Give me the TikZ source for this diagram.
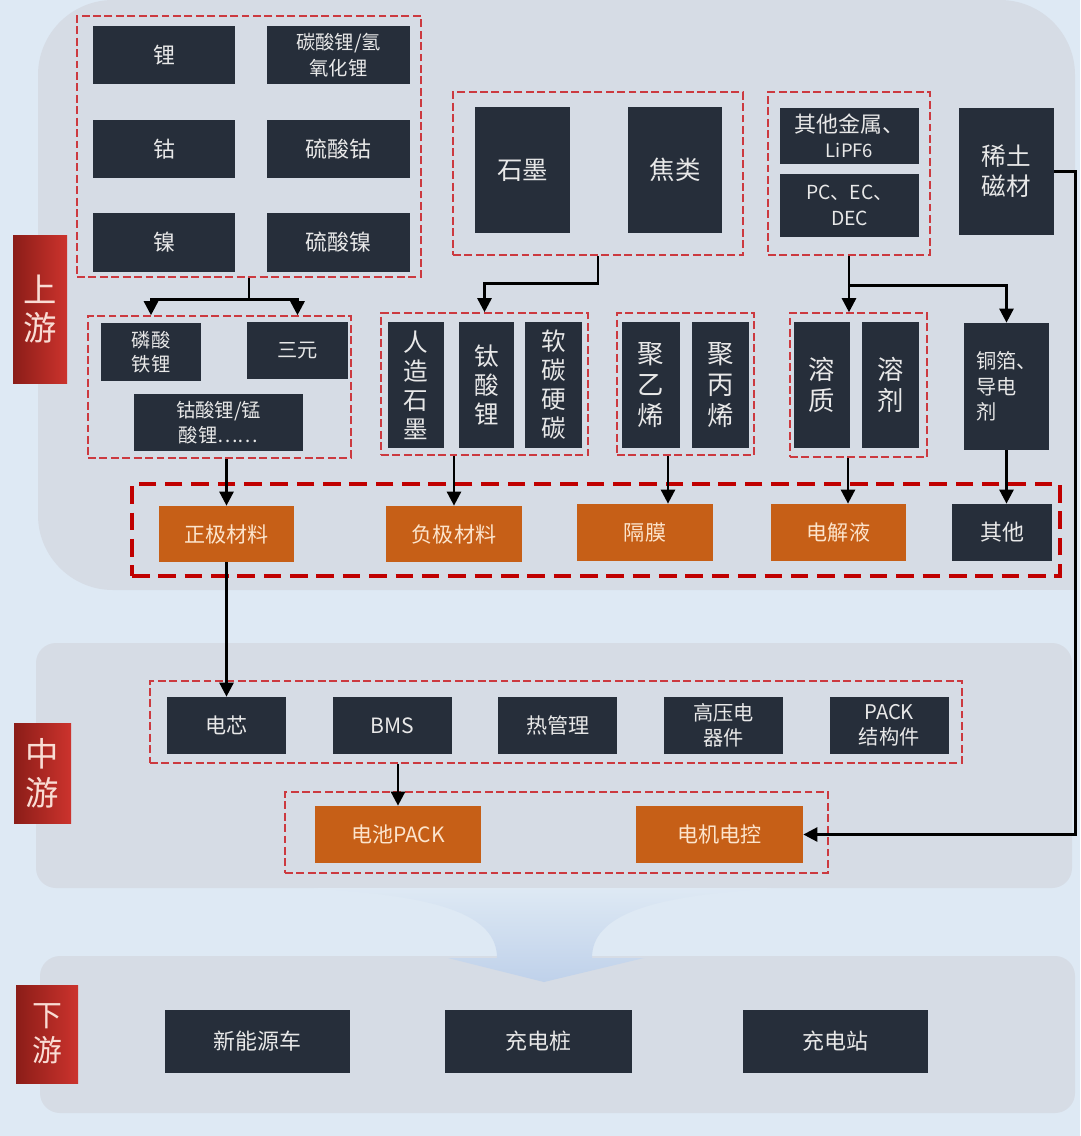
\documentclass[tikz,border=0pt]{standalone}
\usepackage{fontspec}
\setmainfont{Noto Sans CJK SC}
\usetikzlibrary{positioning}
\usetikzlibrary{fit}
\usetikzlibrary{calc}
\usetikzlibrary{arrows.meta}

\definecolor{bgblue}{HTML}{DEE9F4}
\definecolor{panelgrey}{HTML}{D6DCE5}
\definecolor{funnelblue}{HTML}{BFD1EA}
\definecolor{boxdark}{HTML}{262E3A}
\definecolor{boxtext}{HTML}{E8E8E8}
\definecolor{boxorange}{HTML}{C65F17}
\definecolor{orangetext}{HTML}{FCE4CC}
\definecolor{grpred}{HTML}{CC3A40}
\definecolor{bigred}{HTML}{C00000}
\definecolor{stagedark}{HTML}{8B1D18}
\definecolor{stagelight}{HTML}{CC332D}
\definecolor{stagetext}{HTML}{F9DCD4}

\tikzset{
  fs/.style 2 args={font=\fontsize{#1}{#2}\selectfont},
  rect/.style n args={4}{at={({(#1+#3)/2},{(#2+#4)/2})}, minimum width={(#3-#1)*0.02cm}, minimum height={(#4-#2)*0.02cm}},
  dbox/.style={fill=boxdark, text=boxtext, inner sep=0pt, align=center, fs={12}{14.5}},
  obox/.style={dbox, fill=boxorange, text=orangetext},
  grp/.style={draw=grpred, dash pattern=on 4.5pt off 2pt, line width=0.9pt, inner sep=0pt},
  biggrp/.style={draw=bigred, dash pattern=on 10pt off 5pt, line width=2.6pt, inner sep=0pt},
  stage/.style={left color=stagedark, right color=stagelight, text=stagetext, inner sep=0pt, align=center},
  flow/.style={-{Triangle[length=0.28cm, width=0.28cm]}, line width=1.5pt, black},
}

\begin{document}
\begin{tikzpicture}[x=0.02cm, y=-0.02cm]
    \useasboundingbox (0,0) rectangle (1080,1136);
    \fill[bgblue] (0,0) rectangle (1080,1136);

    % panels
    \fill[panelgrey, rounded corners=1.5cm] (38,0) rectangle (1075,590);
    \fill[panelgrey] (1000,520) rectangle (1075,590);
    \fill[panelgrey, rounded corners=0.4cm] (36,643) rectangle (1072,888);
    \fill[panelgrey, rounded corners=0.4cm] (40,956) rectangle (1075,1113);
    \shade[top color=bgblue, bottom color=funnelblue] (305,888) .. controls (440,895) and (497,915) .. (497,958) -- (448,958) -- (544,982) -- (644,958) -- (592,958) .. controls (592,915) and (650,895) .. (780,888) -- cycle;

    % stage labels
    \node[stage, rect={13}{235}{67}{383}, fs={19}{22}] (up) {上\\游};
    \node[stage, rect={14}{723}{71}{823}, fs={19}{22}] (mid) {中\\游};
    \node[stage, rect={16}{985}{78}{1083}, fs={17}{20}] (down) {下\\游};

    % upstream raw materials
    \node[grp, fit={(77,16) (421,277)}] (grpA) {};
    \node[dbox, rect={93}{26}{235}{84}, fs={12.5}{15}] (li) {锂};
    \node[dbox, rect={267}{26}{410}{84}, fs={11}{14.5}] (licarb) {碳酸锂/氢\\氧化锂};
    \node[dbox, rect={93}{120}{235}{178}, fs={12.5}{15}] (co) {钴};
    \node[dbox, rect={267}{120}{410}{178}, fs={12.5}{15}] (cosulf) {硫酸钴};
    \node[dbox, rect={93}{213}{235}{272}, fs={12.5}{15}] (ni) {镍};
    \node[dbox, rect={267}{213}{410}{272}, fs={12.5}{15}] (nisulf) {硫酸镍};

    \node[grp, fit={(453,92) (743,255)}] (grpB) {};
    \node[dbox, rect={475}{107}{570}{233}, fs={14.5}{17}] (graphite) {石墨};
    \node[dbox, rect={628}{107}{722}{233}, fs={14.5}{17}] (coke) {焦类};

    \node[grp, fit={(768,92) (930,255)}] (grpC) {};
    \node[dbox, rect={780}{108}{919}{164}, fs={12.5}{14}] (metal) {其他金属、\\{\fontsize{10.5}{12}\selectfont LiPF6}};
    \node[dbox, rect={780}{174}{919}{237}, fs={11}{14.5}] (solv) {PC、EC、\\DEC};
    \node[dbox, rect={959}{108}{1054}{235}, fs={14}{17}] (rareearth) {稀土\\磁材};

    % upstream intermediates
    \node[grp, fit={(88,316) (351,458)}] (grpD) {};
    \node[dbox, rect={101}{323}{201}{381}, fs={11}{14}] (lfp) {磷酸\\铁锂};
    \node[dbox, rect={247}{322}{348}{379}, fs={11.5}{14}] (ncm) {三元};
    \node[dbox, rect={134}{394}{303}{451}, fs={11}{14.5}] (lco) {钴酸锂/锰\\酸锂……};

    \node[grp, fit={(381,313) (588,455)}] (grpE) {};
    \node[dbox, rect={388}{322}{444}{448}, fs={14}{16.5}] (artgraph) {人\\造\\石\\墨};
    \node[dbox, rect={459}{322}{514}{448}, fs={14}{16.5}] (lto) {钛\\酸\\锂};
    \node[dbox, rect={525}{322}{582}{448}, fs={14}{16.5}] (carbon) {软\\碳\\硬\\碳};

    \node[grp, fit={(617,313) (754,455)}] (grpF) {};
    \node[dbox, rect={622}{322}{680}{448}, fs={15}{17.5}] (pe) {聚\\乙\\烯};
    \node[dbox, rect={692}{322}{749}{448}, fs={15}{17.5}] (pp) {聚\\丙\\烯};

    \node[grp, fit={(790,313) (927,457)}] (grpG) {};
    \node[dbox, rect={794}{322}{850}{448}, fs={15}{17.5}] (solute) {溶\\质};
    \node[dbox, rect={862}{322}{919}{448}, fs={15}{17.5}] (solvent) {溶\\剂};

    \node[dbox, rect={964}{323}{1049}{450}, fs={11.5}{14.5}, align=left] (foil) {铜箔、\\导电\\剂};

    % battery materials
    \node[biggrp, fit={(132,484) (1060,576)}] (materials) {};
    \node[obox, rect={159}{506}{294}{562}] (cathode) {正极材料};
    \node[obox, rect={386}{506}{522}{562}] (anode) {负极材料};
    \node[obox, rect={577}{504}{713}{561}] (separator) {隔膜};
    \node[obox, rect={771}{504}{906}{561}] (electrolyte) {电解液};
    \node[dbox, rect={952}{504}{1052}{561}, fs={12.5}{15}] (other) {其他};

    % midstream
    \node[grp, fit={(150,681) (962,763)}] (grpH) {};
    \node[dbox, rect={167}{697}{286}{754}] (cell) {电芯};
    \node[dbox, minimum width=2.38cm, minimum height=1.14cm, right=0.92cm of cell] (bms) {BMS};
    \node[dbox, minimum width=2.38cm, minimum height=1.14cm, right=0.92cm of bms] (thermal) {热管理};
    \node[dbox, minimum width=2.38cm, minimum height=1.14cm, right=0.92cm of thermal, fs={11.5}{14}] (hv) {高压电\\器件};
    \node[dbox, minimum width=2.38cm, minimum height=1.14cm, right=0.92cm of hv, fs={11.5}{14}] (packpart) {PACK\\结构件};

    \node[grp, fit={(285,792) (828,873)}] (grpI) {};
    \node[obox, rect={315}{806}{481}{863}] (pack) {电池PACK};
    \node[obox, rect={636}{806}{803}{863}] (motor) {电机电控};

    % downstream
    \node[dbox, rect={165}{1010}{350}{1073}, fs={12.5}{15}] (nev) {新能源车};
    \node[dbox, rect={445}{1010}{632}{1073}, fs={12.5}{15}] (pile) {充电桩};
    \node[dbox, rect={743}{1010}{928}{1073}, fs={12.5}{15}] (station) {充电站};

    % connectors
    \draw[flow] (grpA.south) -- ++(0,22) -| (lfp.north |- grpD.north);
    \draw[flow] (grpA.south) -- ++(0,22) -| (ncm.north |- grpD.north);
    \draw[flow] (grpB.south) -- ++(0,28) -| (grpE.north);
    \draw[flow] (grpC.south) -- (grpC.south |- grpG.north);
    \draw[flow] (grpC.south) -- ++(0,30) -| (foil.north);
    \draw[flow] (cathode.north |- grpD.south) -- (cathode.north);
    \draw[flow] (anode.north |- grpE.south) -- (anode.north);
    \draw[flow] ([xshift=0.46cm]separator.north |- grpF.south) -- ([xshift=0.46cm]separator.north);
    \draw[flow] ([xshift=0.19cm]electrolyte.north |- grpG.south) -- ([xshift=0.19cm]electrolyte.north);
    \draw[flow] (foil.south) -- (foil.south |- other.north);
    \draw[flow] (cathode.south) -- (cell.north);
    \draw[flow] (pack.north |- grpH.south) -- (pack.north);
    \draw[flow] (rareearth.east) -- ++(21,0) |- (motor.east);
\end{tikzpicture}
\end{document}
